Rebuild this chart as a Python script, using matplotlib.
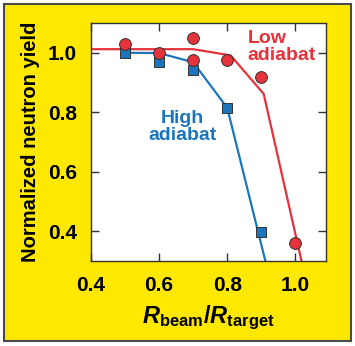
import matplotlib
matplotlib.use('Agg')
import matplotlib.pyplot as plt
import matplotlib.patches as mpatches

# measured points
low_x = [0.5, 0.6, 0.7, 0.7, 0.8, 0.9, 1.0]
low_y = [1.03, 1.0, 1.05, 0.977, 0.976, 0.917, 0.362]
high_x = [0.5, 0.6, 0.7, 0.8, 0.9]
high_y = [1.0, 0.969, 0.943, 0.815, 0.397]

# fitted curves
low_fit_x = [0.4, 0.7, 0.81, 0.907, 1.018]
low_fit_y = [1.012, 1.012, 0.991, 0.862, 0.3]
high_fit_x = [0.5, 0.6, 0.7, 0.8, 0.912]
high_fit_y = [1.0, 0.999, 0.968, 0.815, 0.3]

x_ticks = [0.4, 0.6, 0.8, 1.0]
y_ticks = [0.4, 0.6, 0.8, 1.0]

RED = '#E5323B'
BLUE = '#1B75BC'
YELLOW = '#FFE800'

plt.rcParams['font.family'] = ['Liberation Sans', 'DejaVu Sans']
plt.rcParams['mathtext.fontset'] = 'custom'
plt.rcParams['mathtext.rm'] = 'Liberation Sans'
plt.rcParams['mathtext.bf'] = 'Liberation Sans:bold'
plt.rcParams['mathtext.it'] = 'Liberation Sans:italic'
plt.rcParams['mathtext.bfit'] = 'Liberation Sans:italic:bold'

W, H = 355, 346
fig = plt.figure(figsize=(W / 100, H / 100), dpi=100)
fig.patch.set_facecolor('white')

# yellow frame
frame = mpatches.Rectangle((3.5 / W, (H - 340.5) / H), 347 / W, 337 / H,
                           transform=fig.transFigure, facecolor=YELLOW,
                           edgecolor='#4a4a4a', linewidth=1.5, zorder=-5)
fig.patches.append(frame)

ax = fig.add_axes([91 / W, (H - 261) / H, 235 / W, 238 / H])
ax.set_facecolor('white')

ax.plot(low_fit_x, low_fit_y, color=RED, lw=1.6, zorder=2)
ax.plot(high_fit_x, high_fit_y, color=BLUE, lw=1.6, zorder=2)
ax.scatter(high_x, high_y, marker='s', s=55, color=BLUE, edgecolor='#333333',
           linewidth=0.7, zorder=3)
ax.scatter(low_x, low_y, marker='o', s=72, color=RED, edgecolor='#333333',
           linewidth=0.7, zorder=4)

ax.text(0.859, 1.078, 'Low\nadiabat', color=RED, fontsize=14, fontweight='bold',
        ha='left', va='top', linespacing=1.0)
ax.text(0.669, 0.808, 'High\nadiabat', color=BLUE, fontsize=14, fontweight='bold',
        ha='center', va='top', linespacing=1.0)

ax.set_xlim(0.4, 1.09)
ax.set_ylim(0.3, 1.1)
ax.set_xticks(x_ticks)
ax.set_yticks(y_ticks)
ax.set_xticklabels([f'{v:.1f}' for v in x_ticks], fontsize=15, fontweight='bold')
ax.set_yticklabels([f'{v:.1f}' for v in y_ticks], fontsize=15, fontweight='bold')
ax.tick_params(direction='in', length=6, width=1, top=True, right=True,
               color='#333333')
ax.tick_params(axis='x', pad=11)
ax.tick_params(axis='y', pad=10)
for s in ax.spines.values():
    s.set_color('#333333')
    s.set_linewidth(1)

ax.set_ylabel('Normalized neutron yield', fontsize=14.5, fontweight='bold', labelpad=6)
ax.set_xlabel(r'$\mathbfit{R}_{\mathbf{beam}}\mathbf{/}\mathbfit{R}_{\mathbf{target}}$',
              fontsize=17, labelpad=6)

fig.savefig('out.png', dpi=100)
